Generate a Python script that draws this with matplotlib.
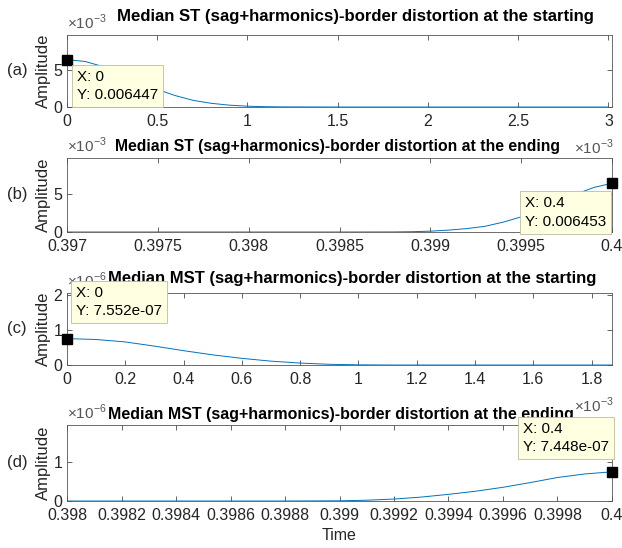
import matplotlib
matplotlib.use("Agg")
import matplotlib.pyplot as plt
from matplotlib.ticker import FuncFormatter

plt.rcParams['font.family'] = ['Liberation Sans', 'DejaVu Sans']
plt.rcParams['mathtext.fontset'] = 'custom'
plt.rcParams['mathtext.rm'] = 'Liberation Sans'

# (a) ST border distortion at the starting
t_a = [0, 0.1e-3, 0.2e-3, 0.3e-3, 0.4e-3, 0.5e-3, 0.6e-3, 0.7e-3, 0.8e-3, 0.9e-3,
       1.0e-3, 1.1e-3, 1.2e-3, 1.5e-3, 2.0e-3, 2.5e-3, 3.0e-3]
v_a = [6.447e-3, 6.2e-3, 5.5e-3, 4.5e-3, 3.4e-3, 2.4e-3, 1.55e-3, 0.9e-3, 0.5e-3, 0.25e-3,
       0.11e-3, 0.04e-3, 0.015e-3, 0, 0, 0, 0]
# (b) ST border distortion at the ending
t_b = [0.397, 0.398, 0.3985, 0.3988, 0.3989, 0.3990, 0.3991, 0.3992, 0.3993, 0.3994,
       0.3995, 0.3996, 0.3997, 0.3998, 0.3999, 0.4]
v_b = [0, 0, 0, 0.01e-3, 0.04e-3, 0.11e-3, 0.25e-3, 0.45e-3, 0.75e-3, 1.3e-3,
       2.0e-3, 3.0e-3, 4.0e-3, 5.0e-3, 5.9e-3, 6.453e-3]
# (c) MST border distortion at the starting
t_c = [0, 0.1e-3, 0.2e-3, 0.3e-3, 0.4e-3, 0.5e-3, 0.6e-3, 0.7e-3, 0.8e-3, 0.9e-3,
       1.0e-3, 1.1e-3, 1.87e-3]
v_c = [7.552e-7, 7.3e-7, 6.6e-7, 5.4e-7, 4.1e-7, 2.9e-7, 1.9e-7, 1.1e-7, 0.55e-7, 0.2e-7,
       0.05e-7, 0, 0]
# (d) MST border distortion at the ending
t_d = [0.398, 0.3988, 0.3990, 0.3991, 0.3992, 0.3993, 0.3994, 0.3995, 0.3996, 0.3997,
       0.3998, 0.3999, 0.4]
v_d = [0, 0, 0.005e-6, 0.02e-6, 0.05e-6, 0.1e-6, 0.17e-6, 0.25e-6, 0.35e-6, 0.47e-6,
       0.6e-6, 0.69e-6, 7.448e-7]

titles = ["Median ST (sag+harmonics)-border distortion at the starting",
          "Median ST (sag+harmonics)-border distortion at the ending",
          "Median MST (sag+harmonics)-border distortion at the starting",
          "Median MST (sag+harmonics)-border distortion at the ending"]
letters = ["(a)", "(b)", "(c)", "(d)"]
tips = [(0, 0.006447, "X: 0\nY: 0.006447"),
        (0.4, 0.006453, "X: 0.4\nY: 0.006453"),
        (0, 7.552e-07, "X: 0\nY: 7.552e-07"),
        (0.4, 7.448e-07, "X: 0.4\nY: 7.448e-07")]

W, H = 622, 548
fig = plt.figure(figsize=(W / 100, H / 100), dpi=100)

def box(top, bottom, left=67, right=612):
    return [left / W, 1 - bottom / H, (right - left) / W, (bottom - top) / H]

rects = [box(35, 107), box(158, 232), box(293, 365), box(425, 501)]
data = [(t_a, v_a), (t_b, v_b), (t_c, v_c), (t_d, v_d)]
xlims = [(0, 3.02e-3), (0.397, 0.4), (0, 1.87e-3), (0.398, 0.4)]
ylims = [(0, 0.0098), (0, 0.0098), (0, 2.06e-6), (0, 1.94e-6)]
xticks = [[0, 0.5e-3, 1e-3, 1.5e-3, 2e-3, 2.5e-3, 3e-3],
          [0.397, 0.3975, 0.398, 0.3985, 0.399, 0.3995, 0.4],
          [0, 0.2e-3, 0.4e-3, 0.6e-3, 0.8e-3, 1e-3, 1.2e-3, 1.4e-3, 1.6e-3, 1.8e-3],
          [0.398, 0.3982, 0.3984, 0.3986, 0.3988, 0.399, 0.3992, 0.3994, 0.3996, 0.3998, 0.4]]
yticks = [[0, 5e-3], [0, 5e-3], [0, 1e-6, 2e-6], [0, 1e-6]]
xscale = [1e-3, 1, 1e-3, 1]
yscale = [1e-3, 1e-3, 1e-6, 1e-6]
yexp = ["-3", "-3", "-6", "-6"]
title_left = [117, 115, 108, 108]
title_size = [12.1, 11.3, 12.0, 11.5]
title_dy = [18, 11, 15, 10]
tip_off = [((10, -10), 'left', 'top'), ((-6, -13), 'right', 'top'),
           ((9, 53), 'left', 'top'), ((-3, 50), 'right', 'top')]

grey = '#262626'
for i in range(4):
    ax = fig.add_axes(rects[i])
    t, v = data[i]
    ax.plot(t, v, color='#0072BD', lw=0.7)
    ax.set_xlim(xlims[i])
    ax.set_ylim(ylims[i])
    ax.set_xticks(xticks[i])
    ax.set_yticks(yticks[i])
    sx, sy = xscale[i], yscale[i]
    ax.xaxis.set_major_formatter(FuncFormatter(lambda x, p, s=sx: '%g' % round(x / s, 6)))
    ax.yaxis.set_major_formatter(FuncFormatter(lambda y, p, s=sy: '%g' % round(y / s, 6)))
    ax.tick_params(direction='in', top=True, right=True, length=3.5, width=0.5,
                   labelsize=11.5, colors=grey)
    ax.tick_params(axis='x', pad=5)
    ax.tick_params(axis='y', pad=3.5)
    for sp in ax.spines.values():
        sp.set_linewidth(0.6)
        sp.set_color('#555555')
    ax.set_ylabel("Amplitude", fontsize=12, color=grey, labelpad=2)
    if i == 3:
        ax.set_xlabel("Time", fontsize=11.5, color=grey, labelpad=4)
    # title
    ax.annotate(titles[i], xy=((title_left[i] - 67) / 545, 1), xycoords='axes fraction',
                xytext=(0, title_dy[i]), textcoords='offset pixels',
                ha='left', va='center', fontsize=title_size[i], fontweight='bold', color='black')
    # y exponent
    ax.annotate(r'$\times10^{%s}$' % yexp[i], xy=(0, 1), xycoords='axes fraction',
                xytext=(0, 3), textcoords='offset pixels', ha='left', va='bottom',
                fontsize=11, color='#555555')
    # x exponent for (a) and (c)
    if i in (0, 2):
        ax.annotate(r'$\times10^{-3}$', xy=(1, 0), xycoords='axes fraction',
                    xytext=(2, -31), textcoords='offset pixels', ha='right', va='top',
                    fontsize=11, color='#555555')
    # panel letter
    ax.annotate(letters[i], xy=(0, 0.5), xycoords='axes fraction',
                xytext=(-50, 0), textcoords='offset pixels', ha='center', va='center',
                fontsize=12, color=grey)
    # datatip
    tx, ty, txt = tips[i]
    ax.plot([tx], [ty], 's', color='black', ms=7.5, clip_on=False, zorder=5)
    off, ha, va = tip_off[i]
    ax.annotate(txt, xy=(tx, ty), xytext=off, textcoords='offset pixels',
                ha=ha, va=va, multialignment='left', fontsize=11, color='black',
                linespacing=1.4, zorder=6, annotation_clip=False,
                bbox=dict(boxstyle='square,pad=0.33', fc='#FFFFE1', ec='#BDBDA0', lw=0.6))

fig.savefig("out.png", dpi=100)
